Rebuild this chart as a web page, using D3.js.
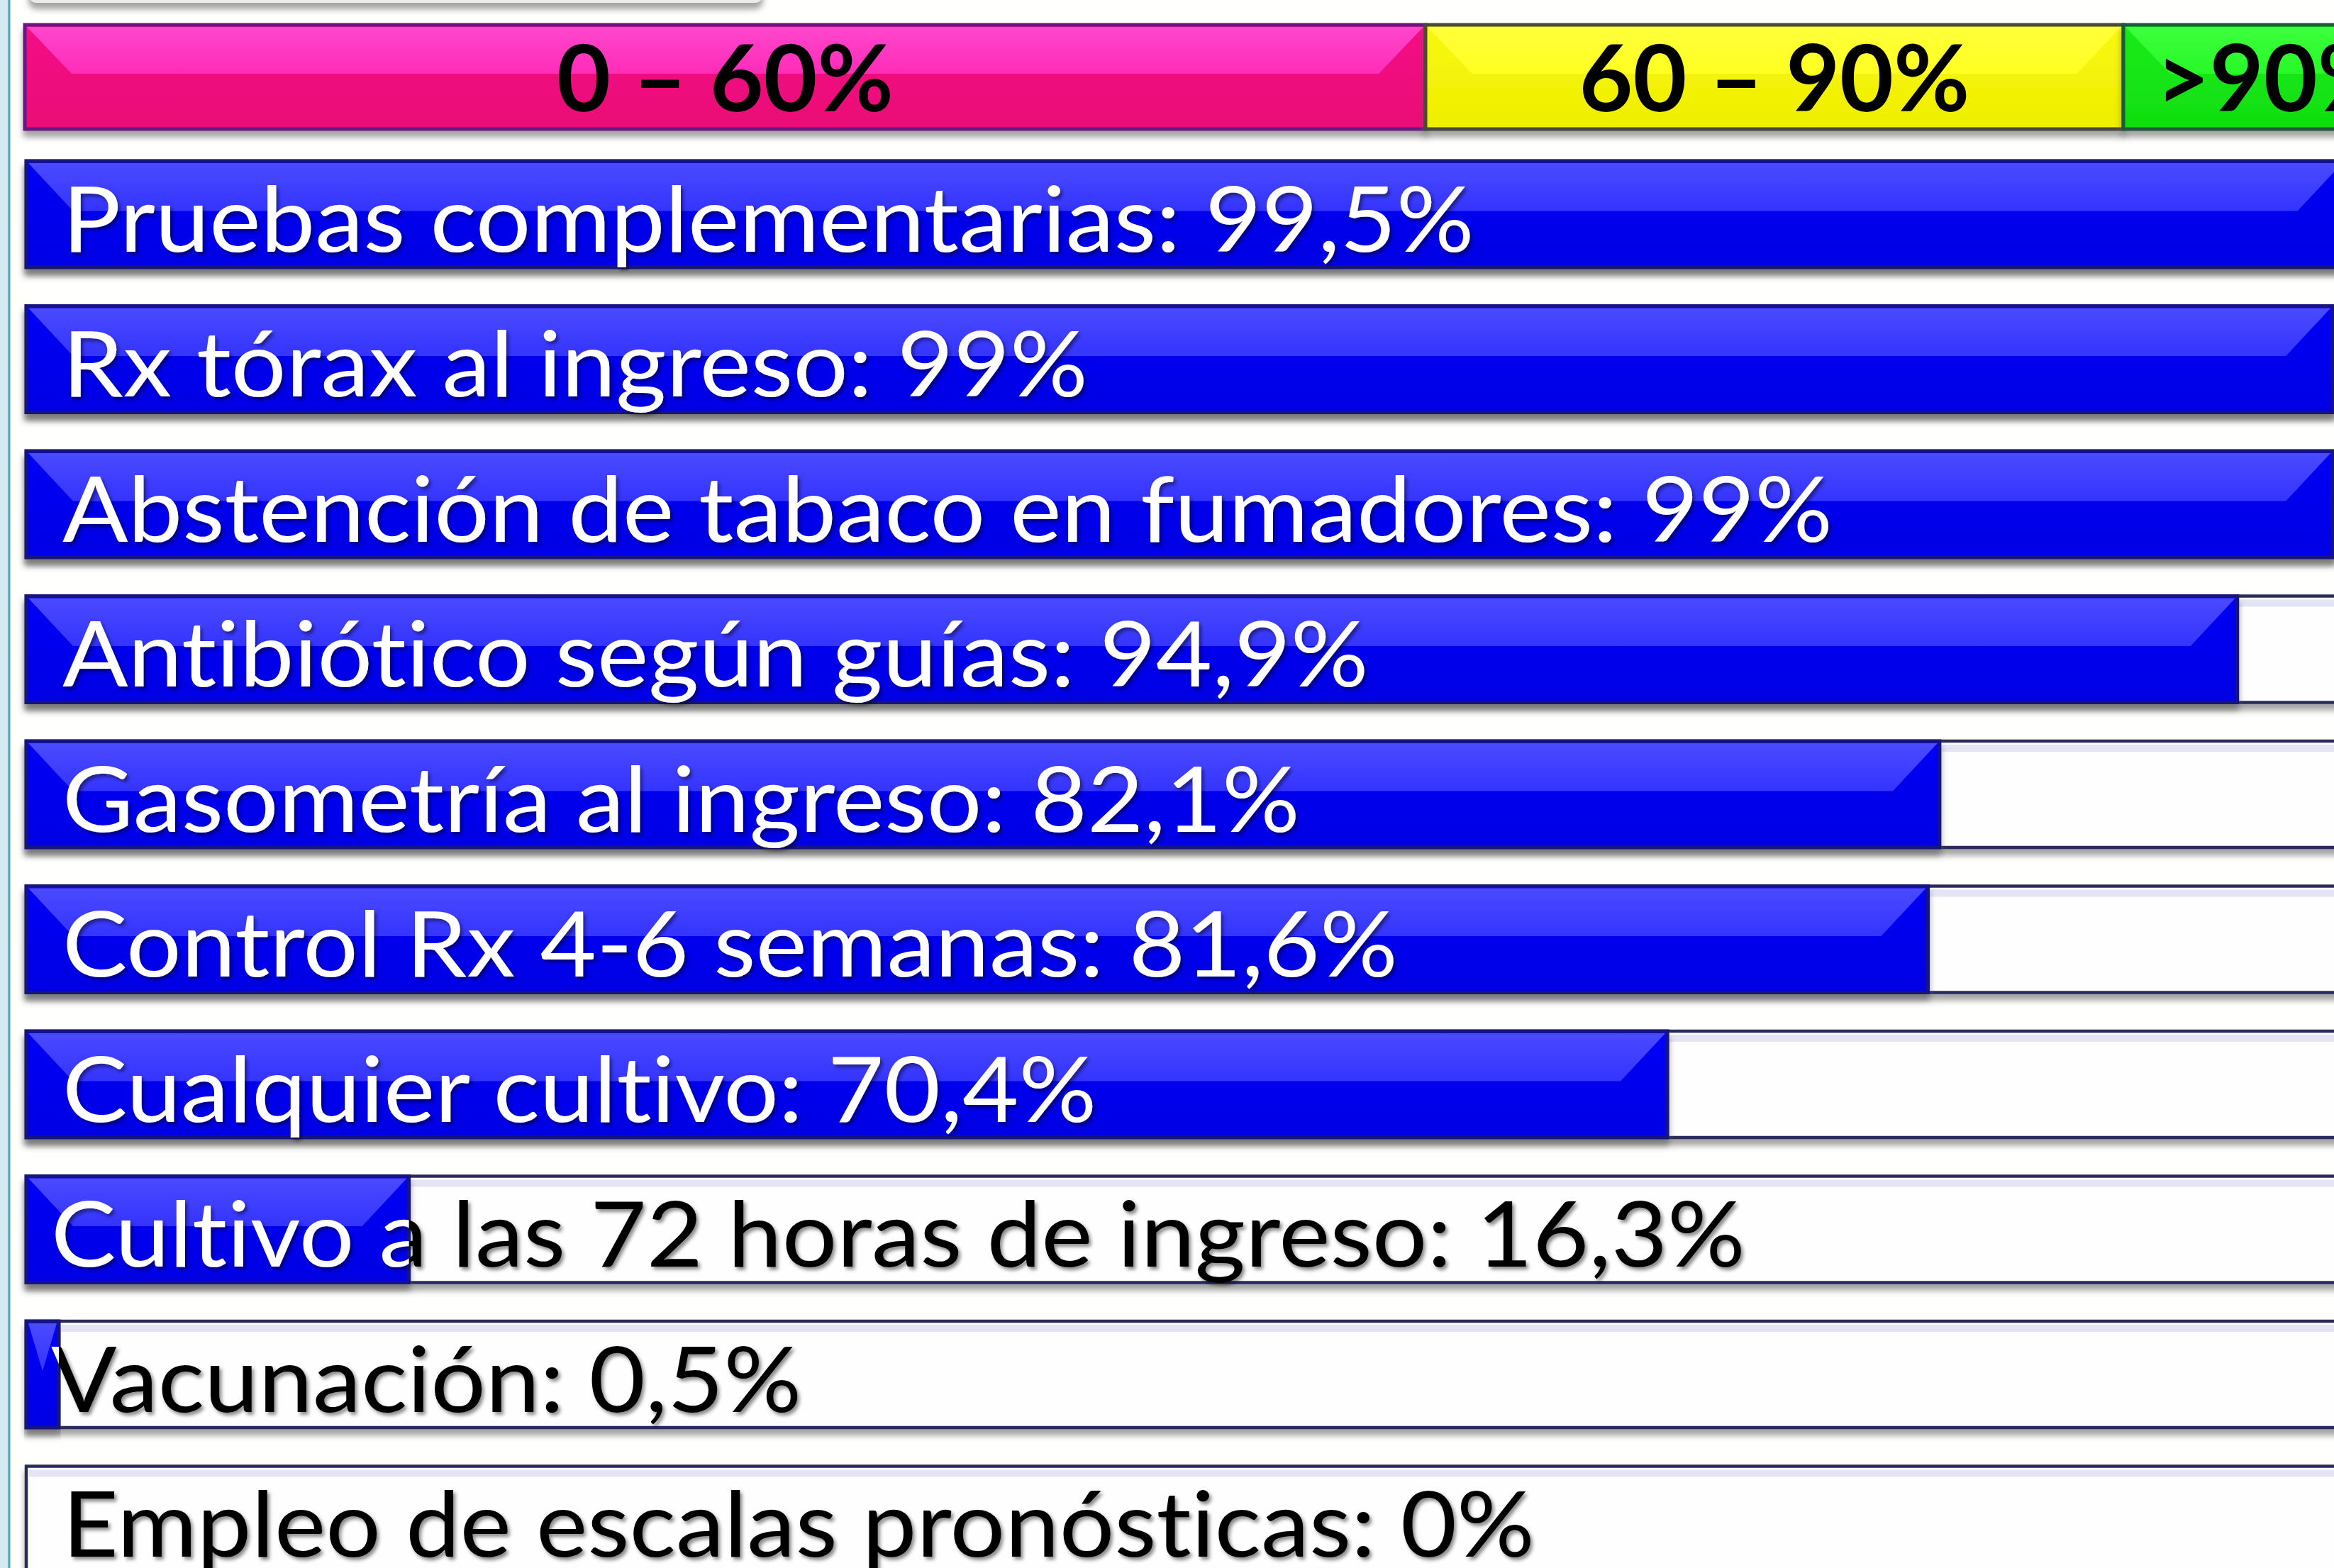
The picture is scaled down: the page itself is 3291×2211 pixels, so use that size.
<!DOCTYPE html>
<html>
<head lang="es">
    <meta charset="UTF-8">
    <title>Indicadores de calidad</title>
    <script src="https://cdn.jsdelivr.net/npm/d3@7/dist/d3.min.js"></script>
    <style>
        body { margin: 0; background: #fffffe; }
        svg { display: block; }
        text { font-variant-ligatures: none; }
    </style>
</head>
<body>
<script>
    var labels = [
        "Pruebas complementarias: 99,5%",
        "Rx tórax al ingreso: 99%",
        "Abstención de tabaco en fumadores: 99%",
        "Antibiótico según guías: 94,9%",
        "Gasometría al ingreso: 82,1%",
        "Control Rx 4-6 semanas: 81,6%",
        "Cualquier cultivo: 70,4%",
        "Cultivo a las 72 horas de ingreso: 16,3%",
        "Vacunación: 0,5%",
        "Empleo de escalas pronósticas: 0%"
    ];
    var values = [99.5, 99, 99, 94.9, 82.1, 81.6, 70.4, 16.3, 0.5, 0];
    var bandLabels = ["0 – 60%", "60 – 90%", ">90%"];
    var bandBreaks = [0, 60, 90, 100];

    var W = 3291, H = 2211;
    var barLeft = 37, bevel = 66, minBar = 46;
    var headerTop = 35, headerH = 147;

    var bandStyle = [
        {light: ["#ff46cc", "#ff2cb8"], dark: ["#f41286", "#ea0a76"], stroke: "#6a1480"},
        {light: ["#ffff3a", "#ffff22"], dark: ["#f8f810", "#eeee00"], stroke: "#4a4a3a"},
        {light: ["#3cff3c", "#28f828"], dark: ["#18ec18", "#10de10"], stroke: "#1f5a3a"}
    ];
    var blueStyle = {light: ["#4a4aff", "#3434ff"], dark: ["#0606f6", "#0000e4"], stroke: "#15157a"};

    var svg = d3.select("body").append("svg")
            .attr("width", W)
            .attr("height", H);
    var defs = svg.append("defs");

    var sh = defs.append("filter").attr("id", "shadow")
            .attr("x", "-5%").attr("y", "-20%").attr("width", "110%").attr("height", "160%");
    sh.append("feDropShadow").attr("dx", 0).attr("dy", 9).attr("stdDeviation", 4)
            .attr("flood-color", "#5a5a5a").attr("flood-opacity", 0.55);
    var tsh = defs.append("filter").attr("id", "tshadow")
            .attr("x", "-5%").attr("y", "-20%").attr("width", "110%").attr("height", "150%");
    tsh.append("feDropShadow").attr("dx", 3).attr("dy", 4).attr("stdDeviation", 2.5)
            .attr("flood-color", "#000").attr("flood-opacity", 0.45);

    function grad(id, c) {
        var g = defs.append("linearGradient").attr("id", id)
                .attr("x1", 0).attr("y1", 0).attr("x2", 0).attr("y2", 1);
        g.append("stop").attr("offset", "0%").attr("stop-color", c[0]);
        g.append("stop").attr("offset", "100%").attr("stop-color", c[1]);
        return "url(#" + id + ")";
    }

    var x = d3.scaleLinear().domain([0, 100]).range([42, 3322]);
    var y = d3.scaleBand().domain(labels)
            .range([227, 2217.5])
            .paddingInner(0.2665)
            .paddingOuter(0);
    var bh = y.bandwidth();

    // bevelled bar: dark body + light upper trapezoid
    function bevelBar(g, x0, x1, top, h, st, id) {
        var darkF = grad(id + "d", st.dark), lightF = grad(id + "l", st.light);
        var w = x1 - x0, b = Math.min(bevel, w / 2), mid = top + h * 0.47;
        g.append("rect")
                .attr("x", x0).attr("y", top)
                .attr("width", w).attr("height", h)
                .attr("fill", darkF)
                .attr("stroke", st.stroke).attr("stroke-width", 5)
                .attr("filter", "url(#shadow)");
        g.append("polygon")
                .attr("points", [[x0 + 3, top + 3], [x1 - 3, top + 3], [x1 - b, mid], [x0 + b, mid]].join(" "))
                .attr("fill", lightF);
    }

    // page decorations
    svg.append("rect").attr("x", 0).attr("y", 0).attr("width", W).attr("height", H).attr("fill", "#fffffe");
    svg.append("rect").attr("x", 0).attr("y", 0).attr("width", 12).attr("height", H).attr("fill", "#d2eaf0");
    svg.append("line").attr("x1", 13).attr("x2", 13).attr("y1", 0).attr("y2", H)
            .attr("stroke", "#4aa3b5").attr("stroke-width", 3);
    svg.append("rect").attr("x", 40).attr("y", -40).attr("width", 1036).attr("height", 44).attr("rx", 12)
            .attr("fill", "#ececec").attr("filter", "url(#shadow)");

    // header bands
    var gHead = svg.append("g");
    bandLabels.forEach(function(lab, i) {
        var x0 = i === 0 ? barLeft - 2 : x(bandBreaks[i]);
        var x1 = i === bandLabels.length - 1 ? W + 130 : x(bandBreaks[i + 1]);
        bevelBar(gHead, x0, x1, headerTop, headerH, bandStyle[i], "band" + i);
        gHead.append("text")
                .attr("x", (x0 + x1) / 2)
                .attr("y", headerTop + 122)
                .attr("text-anchor", "middle")
                .style("font-family", "Lato, 'Open Sans', sans-serif")
                .style("font-weight", 700)
                .style("font-size", "131px")
                .attr("fill", "#000")
                .text(lab);
    });

    // rows
    var gRows = svg.append("g");
    var rows = gRows.selectAll("g.row")
            .data(labels)
            .enter()
            .append("g")
            .attr("class", "row");

    rows.each(function(lab, i) {
        var g = d3.select(this);
        var top = y(lab);
        var v = values[i];
        // empty track
        g.append("rect")
                .attr("x", barLeft).attr("y", top)
                .attr("width", W + 40 - barLeft).attr("height", bh)
                .attr("fill", "#fefefe")
                .attr("stroke", "#2c2c5c").attr("stroke-width", 4.5)
                .attr("filter", "url(#shadow)");
        g.append("rect")
                .attr("x", barLeft + 4).attr("y", top + 5)
                .attr("width", W + 40 - barLeft).attr("height", 10)
                .attr("fill", "#e4e4f4");
        var xr = barLeft;
        if (v > 0) {
            xr = Math.max(x(v), barLeft + minBar);
            bevelBar(g, barLeft, xr, top, bh, blueStyle, "bar" + i);
        }
        // label: black outside bar, white on the bar
        var cOut = defs.append("clipPath").attr("id", "out" + i);
        cOut.append("rect").attr("x", xr).attr("y", top - 20).attr("width", W).attr("height", bh + 60);
        var cIn = defs.append("clipPath").attr("id", "in" + i);
        cIn.append("rect").attr("x", 0).attr("y", top - 20).attr("width", xr).attr("height", bh + 60);
        [["out", "#000"], ["in", "#fff"]].forEach(function(p) {
            g.append("g")
                    .attr("clip-path", "url(#" + p[0] + i + ")")
                    .append("text")
                    .attr("transform", "translate(" + (v > 0 && v < 20 ? 72 : 88) + "," + (top + 128) + ") scale(1.07,1)")
                    .style("font-family", "Lato, 'Open Sans', sans-serif")
                    .style("font-size", "128px")
                    .attr("fill", p[1])
                    .attr("filter", "url(#tshadow)")
                    .text(lab);
        });
    });
</script>
</body>
</html>
